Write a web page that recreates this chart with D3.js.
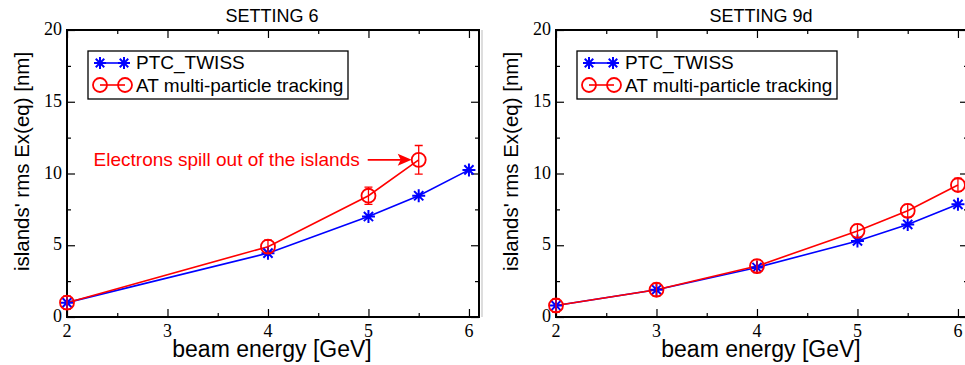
<!DOCTYPE html>
<html>
<head>
<meta charset="utf-8">
<title>emittance vs energy</title>
<style>
  body { margin: 0; background: #fff; }
  .tick line { stroke: #000; stroke-width: 1.2; }
  .axis path { display: none; }
  .lab { font-family: "Liberation Sans", Arial, sans-serif; fill: #000; }
  .num { font-family: "Liberation Serif", "Times New Roman", serif; font-size: 18px; fill: #000; }
</style>
</head>
<body>
<script src="https://cdn.jsdelivr.net/npm/d3@7/dist/d3.min.js"></script>
<script>
// setting 6
var energyS6Ptc = [2, 4, 5, 5.5, 6];
var emitS6Ptc = [1.0, 4.45, 7.0, 8.45, 10.25];
var energyS6At = [2, 4, 5, 5.5];
var emitS6At = [1.0, 4.9, 8.45, 10.95];
var errS6At = [0.45, 0.45, 0.6, 1.0];
// setting 9d
var energyS9 = [2, 3, 4, 5, 5.5, 6];
var emitS9Ptc = [0.8, 1.9, 3.45, 5.3, 6.45, 7.85];
var emitS9At = [0.8, 1.9, 3.55, 6.0, 7.4, 9.2];
var errS9At = [0.45, 0.45, 0.45, 0.45, 0.45, 0.45];

var xTicks = [2, 3, 4, 5, 6];
var xMinor = [2.5, 3.5, 4.5, 5.5];
var yTicks = [0, 5, 10, 15, 20];
var yMinor = [2.5, 7.5, 12.5, 17.5];
var seriesNames = ["PTC_TWISS", "AT multi-particle tracking"];

var width = 965, height = 365;
var svg = d3.select("body").append("svg")
  .attr("width", width).attr("height", height);

var pw = 412, ph = 287, padTop = 30;

function star(g, cx, cy, r) {
  var d = "";
  for (var k = 0; k < 4; k++) {
    var a = k * Math.PI / 4;
    d += "M" + (cx - r * Math.cos(a)) + "," + (cy - r * Math.sin(a)) +
         "L" + (cx + r * Math.cos(a)) + "," + (cy + r * Math.sin(a));
  }
  g.append("path").attr("d", d).attr("stroke", "blue").attr("stroke-width", 2).attr("fill", "none");
}

function drawPanel(left, title, ptcX, ptcY, atX, atY, atErr, note) {
  var g = svg.append("g").attr("transform", "translate(" + left + "," + padTop + ")");
  var x = d3.scaleLinear().domain([2, 6.1]).range([0, pw]);
  var y = d3.scaleLinear().domain([0, 20]).range([ph, 0]);

  // ticks only, all pointing inward
  g.append("g").attr("class", "axis").attr("transform", "translate(0," + ph + ")")
    .call(d3.axisBottom(x).tickValues(xTicks).tickSize(-8).tickFormat(""));
  g.append("g").attr("class", "axis").attr("transform", "translate(0," + ph + ")")
    .call(d3.axisBottom(x).tickValues(xMinor).tickSize(-4).tickFormat(""));
  g.append("g").attr("class", "axis")
    .call(d3.axisTop(x).tickValues(xTicks).tickSize(-8).tickFormat(""));
  g.append("g").attr("class", "axis")
    .call(d3.axisTop(x).tickValues(xMinor).tickSize(-4).tickFormat(""));
  g.append("g").attr("class", "axis")
    .call(d3.axisLeft(y).tickValues(yTicks).tickSize(-8).tickFormat(""));
  g.append("g").attr("class", "axis")
    .call(d3.axisLeft(y).tickValues(yMinor).tickSize(-4).tickFormat(""));
  g.append("g").attr("class", "axis").attr("transform", "translate(" + pw + ",0)")
    .call(d3.axisRight(y).tickValues(yTicks).tickSize(-8).tickFormat(""));
  g.append("g").attr("class", "axis").attr("transform", "translate(" + pw + ",0)")
    .call(d3.axisRight(y).tickValues(yMinor).tickSize(-4).tickFormat(""));

  // tick numbers (serif, like the original)
  g.selectAll(".xnum").data(xTicks).enter().append("text")
    .attr("class", "num").attr("x", function (d) { return x(d); }).attr("y", ph + 20)
    .attr("text-anchor", "middle").text(function (d) { return d; });
  g.selectAll(".ynum").data(yTicks).enter().append("text")
    .attr("class", "num").attr("x", -5).attr("y", function (d) { return y(d) + 5; })
    .attr("text-anchor", "end").text(function (d) { return d; });

  g.append("rect").attr("width", pw).attr("height", ph)
    .attr("fill", "none").attr("stroke", "#000").attr("stroke-width", 2);

  g.append("text").attr("class", "lab").attr("x", pw / 2 - 1).attr("y", -8)
    .attr("text-anchor", "middle").attr("font-size", 18).text(title);
  g.append("text").attr("class", "lab").attr("x", pw / 2 - 1).attr("y", ph + 40)
    .attr("text-anchor", "middle").attr("font-size", 23).text("beam energy [GeV]");
  g.append("text").attr("class", "lab")
    .attr("transform", "translate(-38," + (ph / 2 - 12) + ") rotate(-90)")
    .attr("text-anchor", "middle").attr("font-size", 20.5).text("islands' rms Ex(eq) [nm]");

  var line = d3.line();
  g.append("path")
    .attr("d", line(ptcX.map(function (d, i) { return [x(d), y(ptcY[i])]; })))
    .attr("fill", "none").attr("stroke", "blue").attr("stroke-width", 1.6);
  g.append("path")
    .attr("d", line(atX.map(function (d, i) { return [x(d), y(atY[i])]; })))
    .attr("fill", "none").attr("stroke", "red").attr("stroke-width", 1.6);

  ptcX.forEach(function (d, i) { star(g, x(d), y(ptcY[i]), 6.5); });

  atX.forEach(function (d, i) {
    var cx = x(d), y1 = y(atY[i] + atErr[i]), y2 = y(atY[i] - atErr[i]);
    g.append("path")
      .attr("d", "M" + cx + "," + y1 + "L" + cx + "," + y2 +
                 "M" + (cx - 4) + "," + y1 + "L" + (cx + 4) + "," + y1 +
                 "M" + (cx - 4) + "," + y2 + "L" + (cx + 4) + "," + y2)
      .attr("stroke", "red").attr("stroke-width", 1.3).attr("fill", "none");
    g.append("circle").attr("cx", cx).attr("cy", y(atY[i])).attr("r", 7)
      .attr("fill", "none").attr("stroke", "red").attr("stroke-width", 1.8);
  });

  // legend
  var lg = g.append("g").attr("transform", "translate(21,21)");
  lg.append("rect").attr("width", 260).attr("height", 48)
    .attr("fill", "#fff").attr("stroke", "#000").attr("stroke-width", 1.3);
  lg.append("line").attr("x1", 11).attr("x2", 36).attr("y1", 12).attr("y2", 12)
    .attr("stroke", "blue").attr("stroke-width", 1.6);
  star(lg, 12, 12, 6);
  star(lg, 36, 12, 6);
  lg.append("line").attr("x1", 12).attr("x2", 37).attr("y1", 34).attr("y2", 34)
    .attr("stroke", "red").attr("stroke-width", 1.6);
  lg.append("circle").attr("cx", 12).attr("cy", 34).attr("r", 7)
    .attr("fill", "none").attr("stroke", "red").attr("stroke-width", 1.8);
  lg.append("circle").attr("cx", 37).attr("cy", 34).attr("r", 7)
    .attr("fill", "none").attr("stroke", "red").attr("stroke-width", 1.8);
  lg.append("text").attr("class", "lab").attr("x", 48).attr("y", 18)
    .attr("font-size", 19).text(seriesNames[0]);
  lg.append("text").attr("class", "lab").attr("x", 48).attr("y", 41)
    .attr("font-size", 19).text(seriesNames[1]);

  if (note) {
    var tx = x(note.x) - 7, ty = y(note.y);
    g.append("line").attr("x1", tx - 44).attr("x2", tx - 10).attr("y1", ty).attr("y2", ty)
      .attr("stroke", "red").attr("stroke-width", 1.6);
    g.append("path").attr("d", "M" + tx + "," + ty + "L" + (tx - 14) + "," + (ty - 6) +
      "L" + (tx - 11) + "," + ty + "L" + (tx - 14) + "," + (ty + 6) + "Z").attr("fill", "red");
    g.append("text").attr("class", "lab").attr("x", tx - 52).attr("y", ty + 6)
      .attr("text-anchor", "end").attr("font-size", 19).style("fill", "red").text(note.text);
  }
}

drawPanel(67, "SETTING 6", energyS6Ptc, emitS6Ptc, energyS6At, emitS6At, errS6At,
  { x: 5.5, y: 10.95, text: "Electrons spill out of the islands" });
drawPanel(556, "SETTING 9d", energyS9, emitS9Ptc, energyS9, emitS9At, errS9At, null);

// thin grey edge between the panels
svg.append("line").attr("x1", 482).attr("x2", 482).attr("y1", 30).attr("y2", 317)
  .attr("stroke", "#bbb").attr("stroke-width", 1);
</script>
</body>
</html>
